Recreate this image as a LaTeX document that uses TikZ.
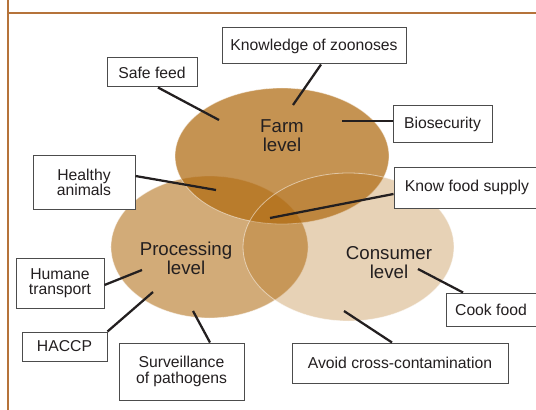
\documentclass[tikz,border=0pt]{standalone}
\usepackage{fontspec}
\setmainfont{Liberation Sans}
\usetikzlibrary{calc}
\definecolor{framebrown}{HTML}{B5733A}
\definecolor{ochre}{HTML}{B06A10}
\definecolor{ink}{HTML}{231F20}
\begin{document}
\begin{tikzpicture}[x=0.75pt,y=-0.75pt,
  tag/.style={draw=black!70, line width=0.75pt, fill=white, text=ink,
    inner sep=0pt, align=center, font=\fontsize{11.8pt}{11.4pt}\selectfont},
  lead/.style={draw=ink, line width=1.7pt},
  zone/.style={fill=ochre, draw=white, draw opacity=0.5, line width=0.6pt},
  zonelabel/.style={text=ink, align=center, font=\fontsize{14pt}{14.2pt}\selectfont}]
\useasboundingbox (0,0) rectangle (536,410);
\fill[white] (0,0) rectangle (536,410);

% page frame
\draw[framebrown, line width=1.1pt] (8,0) -- (8,410);
\draw[framebrown, line width=1.1pt] (8,13) -- (536,13);

% the three levels
\path[zone, fill opacity=0.56] (209.5,247) ellipse [x radius=73.9pt, y radius=53.25pt];
\path[zone, fill opacity=0.72] (282,156) ellipse [x radius=80.25pt, y radius=51pt];
\path[zone, fill opacity=0.30] (348.5,247) ellipse [x radius=79.1pt, y radius=55.5pt];

\node[zonelabel] (farm) at (282,136) {Farm\\level};
\node[zonelabel] (proc) at (186,258) {Processing\\level};
\node[zonelabel] (cons) at (389,263) {Consumer\\level};

% label boxes
\node[tag, minimum width=138pt, minimum height=27pt] (zoo) at (314,46) {Knowledge of zoonoses};
\node[tag, minimum width=67.5pt, minimum height=21.75pt] (safe) at (152,72.5) {Safe feed};
\node[tag, minimum width=74.25pt, minimum height=27.75pt] (bio) at (442.5,124.5) {Biosecurity};
\node[tag, minimum width=109.5pt, minimum height=30.75pt] (know) at (467,187.5) {Know food supply};
\node[tag, minimum width=76.5pt, minimum height=39.75pt] (healthy) at (84,182.5) {Healthy\\animals};
\node[tag, minimum width=66pt, minimum height=37.5pt] (humane) at (60,283) {Humane\\transport};
\node[tag, minimum width=63.75pt, minimum height=21.75pt] (haccp) at (64.5,346.5) {HACCP};
\node[tag, minimum width=93.75pt, minimum height=42.75pt] (surv) at (181.5,371.5) {Surveillance\\of pathogens};
\node[tag, minimum width=162pt, minimum height=30pt] (avoid) at (400,363) {Avoid cross-contamination};
\node[tag, minimum width=67.5pt, minimum height=24.75pt] (cook) at (491,309.5) {Cook food};

% inner ends of the leader lines
\coordinate (pSafe) at (219,120);
\coordinate (pZoo) at (293,105);
\coordinate (pBio) at (342,121);
\coordinate (pHealthy) at (216,190);
\coordinate (pKnow) at (270,218);
\coordinate (pHumane) at (142,270);
\coordinate (pHaccp) at (153,292);
\coordinate (pSurv) at (193,311);
\coordinate (pAvoid) at (344,311);
\coordinate (pCook) at (418,269);

% leader lines
\draw[lead] ($(safe.south)+(6,0)$) -- (pSafe);
\draw[lead] ($(zoo.south)+(7,0)$) -- (pZoo);
\draw[lead] ($(bio.west)+(0,-3.5)$) -- (pBio);
\draw[lead] ($(healthy.east)+(0,-6.5)$) -- (pHealthy);
\draw[lead] ($(know.west)+(0,6.5)$) -- (pKnow);
\draw[lead] ($(humane.east)+(0,2)$) -- (pHumane);
\draw[lead] (haccp.north east) -- (pHaccp);
\draw[lead] ($(surv.north)+(28.5,0)$) -- (pSurv);
\draw[lead] ($(avoid.north)+(-8,0)$) -- (pAvoid);
\draw[lead] ($(cook.north)+(-28,0)$) -- (pCook);
\end{tikzpicture}
\end{document}
